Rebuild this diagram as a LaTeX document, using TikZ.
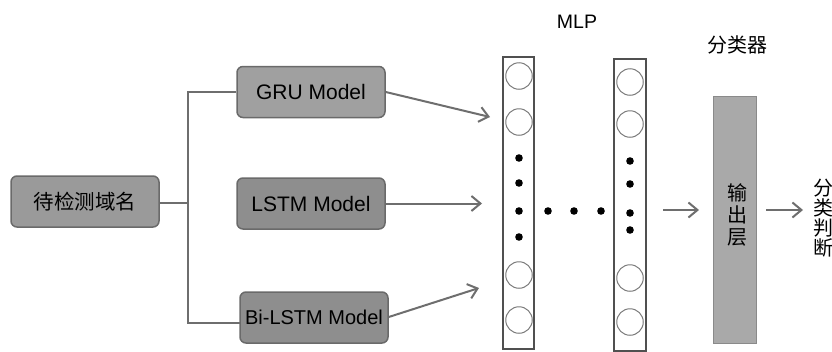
\documentclass[tikz,border=0pt]{standalone}
\usepackage{fontspec}
\setmainfont{Liberation Sans}
\newfontfamily\cjk{Noto Sans CJK SC}
\usetikzlibrary{arrows.meta}

\definecolor{boxfill}{HTML}{9A9A9A}
\definecolor{boxlight}{HTML}{A0A0A0}
\definecolor{boxdark}{HTML}{8E8E8E}
\definecolor{boxedge}{HTML}{6A6A6A}
\definecolor{wire}{HTML}{6E6E6E}
\definecolor{coledge}{HTML}{505050}
\definecolor{ringedge}{HTML}{7A7A7A}
\definecolor{outfill}{HTML}{A9A9A9}
\definecolor{outedge}{HTML}{8A8A8A}

\tikzset{
  model/.style={draw=boxedge, fill=boxfill, line width=1.5pt, rounded corners=6pt,
    minimum width=148pt, minimum height=51pt, inner sep=0pt, text=black},
  wireline/.style={draw=wire, line width=2pt},
  flow/.style={wireline, -{Straight Barb[length=9pt, width=15pt, line width=2pt]}},
  layer/.style={draw=coledge, line width=2.5pt, fill=none},
  unit/.style={draw=ringedge, line width=1pt, fill=white},
  blob/.style={fill=black, draw=none},
  caption/.style={text=black, inner sep=0pt}
}

\begin{document}
\begin{tikzpicture}[x=1pt, y=-1pt]
\useasboundingbox (0,0) rectangle (832,351);

% input and the three recurrent models
\node[model, font=\cjk\fontsize{20.5}{24}\selectfont] (src) at (85,201.5) {待检测域名};
\node[model, fill=boxlight, font=\fontsize{21}{24}\selectfont] (gru) at (311,92) {GRU Model};
\node[model, fill=boxdark, font=\fontsize{21}{24}\selectfont] (lstm) at (311,203.5) {LSTM Model};
\node[model, fill=boxdark, font=\fontsize{20}{24}\selectfont] (bilstm) at (314,317.5) {Bi-LSTM Model};

% branching tree from the input
\coordinate (jt) at (188,92);
\coordinate (jm) at (188,203);
\coordinate (jb) at (188,323);
\coordinate (bw) at (240,323);
\draw[wireline] (src.east |- jm) -- (jm);
\draw[wireline] (gru.west) -- (jt) -- (jb) -- (bw);

% MLP layers
\node[layer, minimum width=31pt, minimum height=292pt, inner sep=0pt] (col1) at (518.5,203) {};
\node[layer, minimum width=32pt, minimum height=292pt, inner sep=0pt] (col2) at (630,205) {};
\node[caption, font=\fontsize{19.5}{22}\selectfont] (mlp) at (577,22) {MLP};

\foreach \y [count=\i] in {76,122,275,320}
  \node[unit, circle, minimum size=26.5pt, inner sep=0pt] (a\i) at (519,\y) {};
\foreach \y [count=\i] in {82,124,278,322}
  \node[unit, circle, minimum size=26.5pt, inner sep=0pt] (b\i) at (630,\y) {};
\foreach \y in {158,183,211,237}
  \fill[blob] (519,\y) circle (3.8pt);
\foreach \y in {161,184,213,230}
  \fill[blob] (630,\y) circle (3.8pt);
\foreach \x in {548,574,601}
  \fill[blob] (\x,211) circle (3.8pt);

% model outputs into the first layer
\coordinate (inA) at (490,117);
\coordinate (inB) at (482,203.5);
\coordinate (inC) at (479,288);
\draw[flow] (gru.east) -- (inA);
\draw[flow] (lstm.east) -- (inB);
\draw[flow] ([yshift=0.5pt]bilstm.east) -- (inC);

% classifier
\node[draw=outedge, fill=outfill, line width=1pt, minimum width=43pt, minimum height=247pt,
  inner sep=0pt] (cls) at (734.5,219.5) {};
\node[caption, font=\cjk\fontsize{20}{22}\selectfont, align=center] (clstxt) at (737,215)
  {输\\出\\层};
\node[caption, font=\cjk\fontsize{20}{22}\selectfont] (clslbl) at (737,45) {分类器};

\coordinate (m1) at (663,210);
\coordinate (m2) at (699,210);
\draw[flow] (m1) -- (m2);
\coordinate (o1) at (766,210);
\coordinate (o2) at (803,210);
\draw[flow] (o1) -- (o2);

\node[caption, font=\cjk\fontsize{20}{20}\selectfont, align=center] (verdict) at (823,218)
  {分\\类\\判\\断};
\end{tikzpicture}
\end{document}
